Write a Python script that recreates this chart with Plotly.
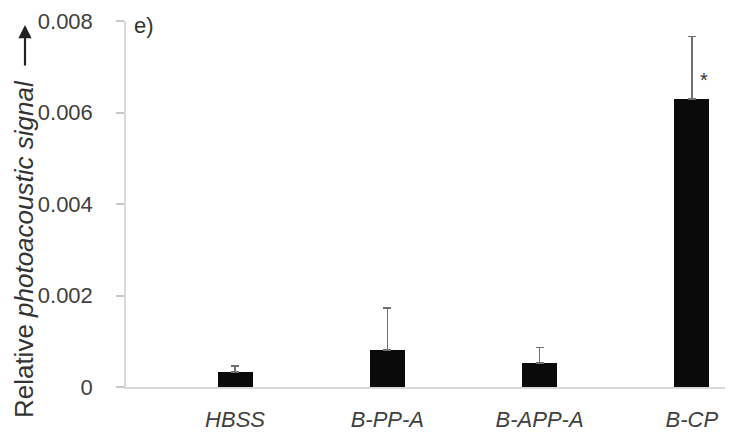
import plotly.graph_objects as go

categories = ["HBSS", "B-PP-A", "B-APP-A", "B-CP"]
means = [0.00033, 0.00081, 0.00053, 0.00629]
errors = [0.00013, 0.00092, 0.00033, 0.00137]
y_ticks = [0, 0.002, 0.004, 0.006, 0.008]
y_tick_labels = ["0", "0.002", "0.004", "0.006", "0.008"]
significance = ["", "", "", "*"]

xpos = list(range(len(categories)))

fig = go.Figure()
fig.add_trace(go.Bar(
    x=xpos, y=means, width=0.23,
    marker=dict(color="#0a0a0a", line=dict(width=0)),
    error_y=dict(type="data", array=errors, symmetric=False, arrayminus=[0]*4,
                 color="#707070", thickness=1.6, width=4),
))

for i, s in enumerate(significance):
    if s:
        fig.add_annotation(x=i + 0.08, y=means[i] + errors[i] * 0.3, text=s,
                           showarrow=False, xanchor="center", yanchor="middle",
                           font=dict(family="Liberation Sans", size=20, color="#333"))

FONT = "Liberation Sans, Arial, sans-serif"

fig.update_layout(
    width=725, height=434,
    margin=dict(l=118, r=0, t=13, b=55),
    paper_bgcolor="white", plot_bgcolor="white",
    showlegend=False,
    bargap=0,
    xaxis=dict(
        range=[-0.716, 3.27], tickvals=xpos, ticktext=categories,
        showgrid=False, zeroline=False, showline=True, linecolor="#d9d9d9", linewidth=2,
        ticks="", ticklabelstandoff=12, automargin=False,
        tickfont=dict(family=FONT, size=22, color="#404040", style="italic"),
    ),
    yaxis=dict(
        range=[0, 0.008], tickvals=y_ticks, ticktext=y_tick_labels,
        showgrid=False, zeroline=False, showline=True, linecolor="#d9d9d9", linewidth=1.5,
        ticks="outside", ticklen=8, tickcolor="#c8c8c8", tickwidth=1.5,
        ticklabelstandoff=19, automargin=False,
        tickfont=dict(family=FONT, size=22, color="#404040"),
    ),
)

# y-axis title (rotated)
fig.add_annotation(
    xref="paper", yref="paper", x=0, y=0.844, xshift=-102,
    text="Relative <i>photoacoustic signal</i>", textangle=-90,
    showarrow=False, xanchor="center", yanchor="top",
    font=dict(family=FONT, size=26, color="#333333"),
)
# arrow above the title
fig.add_annotation(
    xref="paper", yref="paper", x=0, y=0.989, xshift=-101,
    text="", showarrow=True, ax=0, ay=42, arrowhead=2, arrowsize=1.2,
    arrowwidth=2.2, arrowcolor="#222222",
)
# panel label
fig.add_annotation(
    xref="paper", yref="paper", x=0, y=0.989, xshift=6,
    text="e)", showarrow=False, xanchor="left", yanchor="middle",
    font=dict(family=FONT, size=22, color="#333333"),
)

fig.write_html("out.html")
